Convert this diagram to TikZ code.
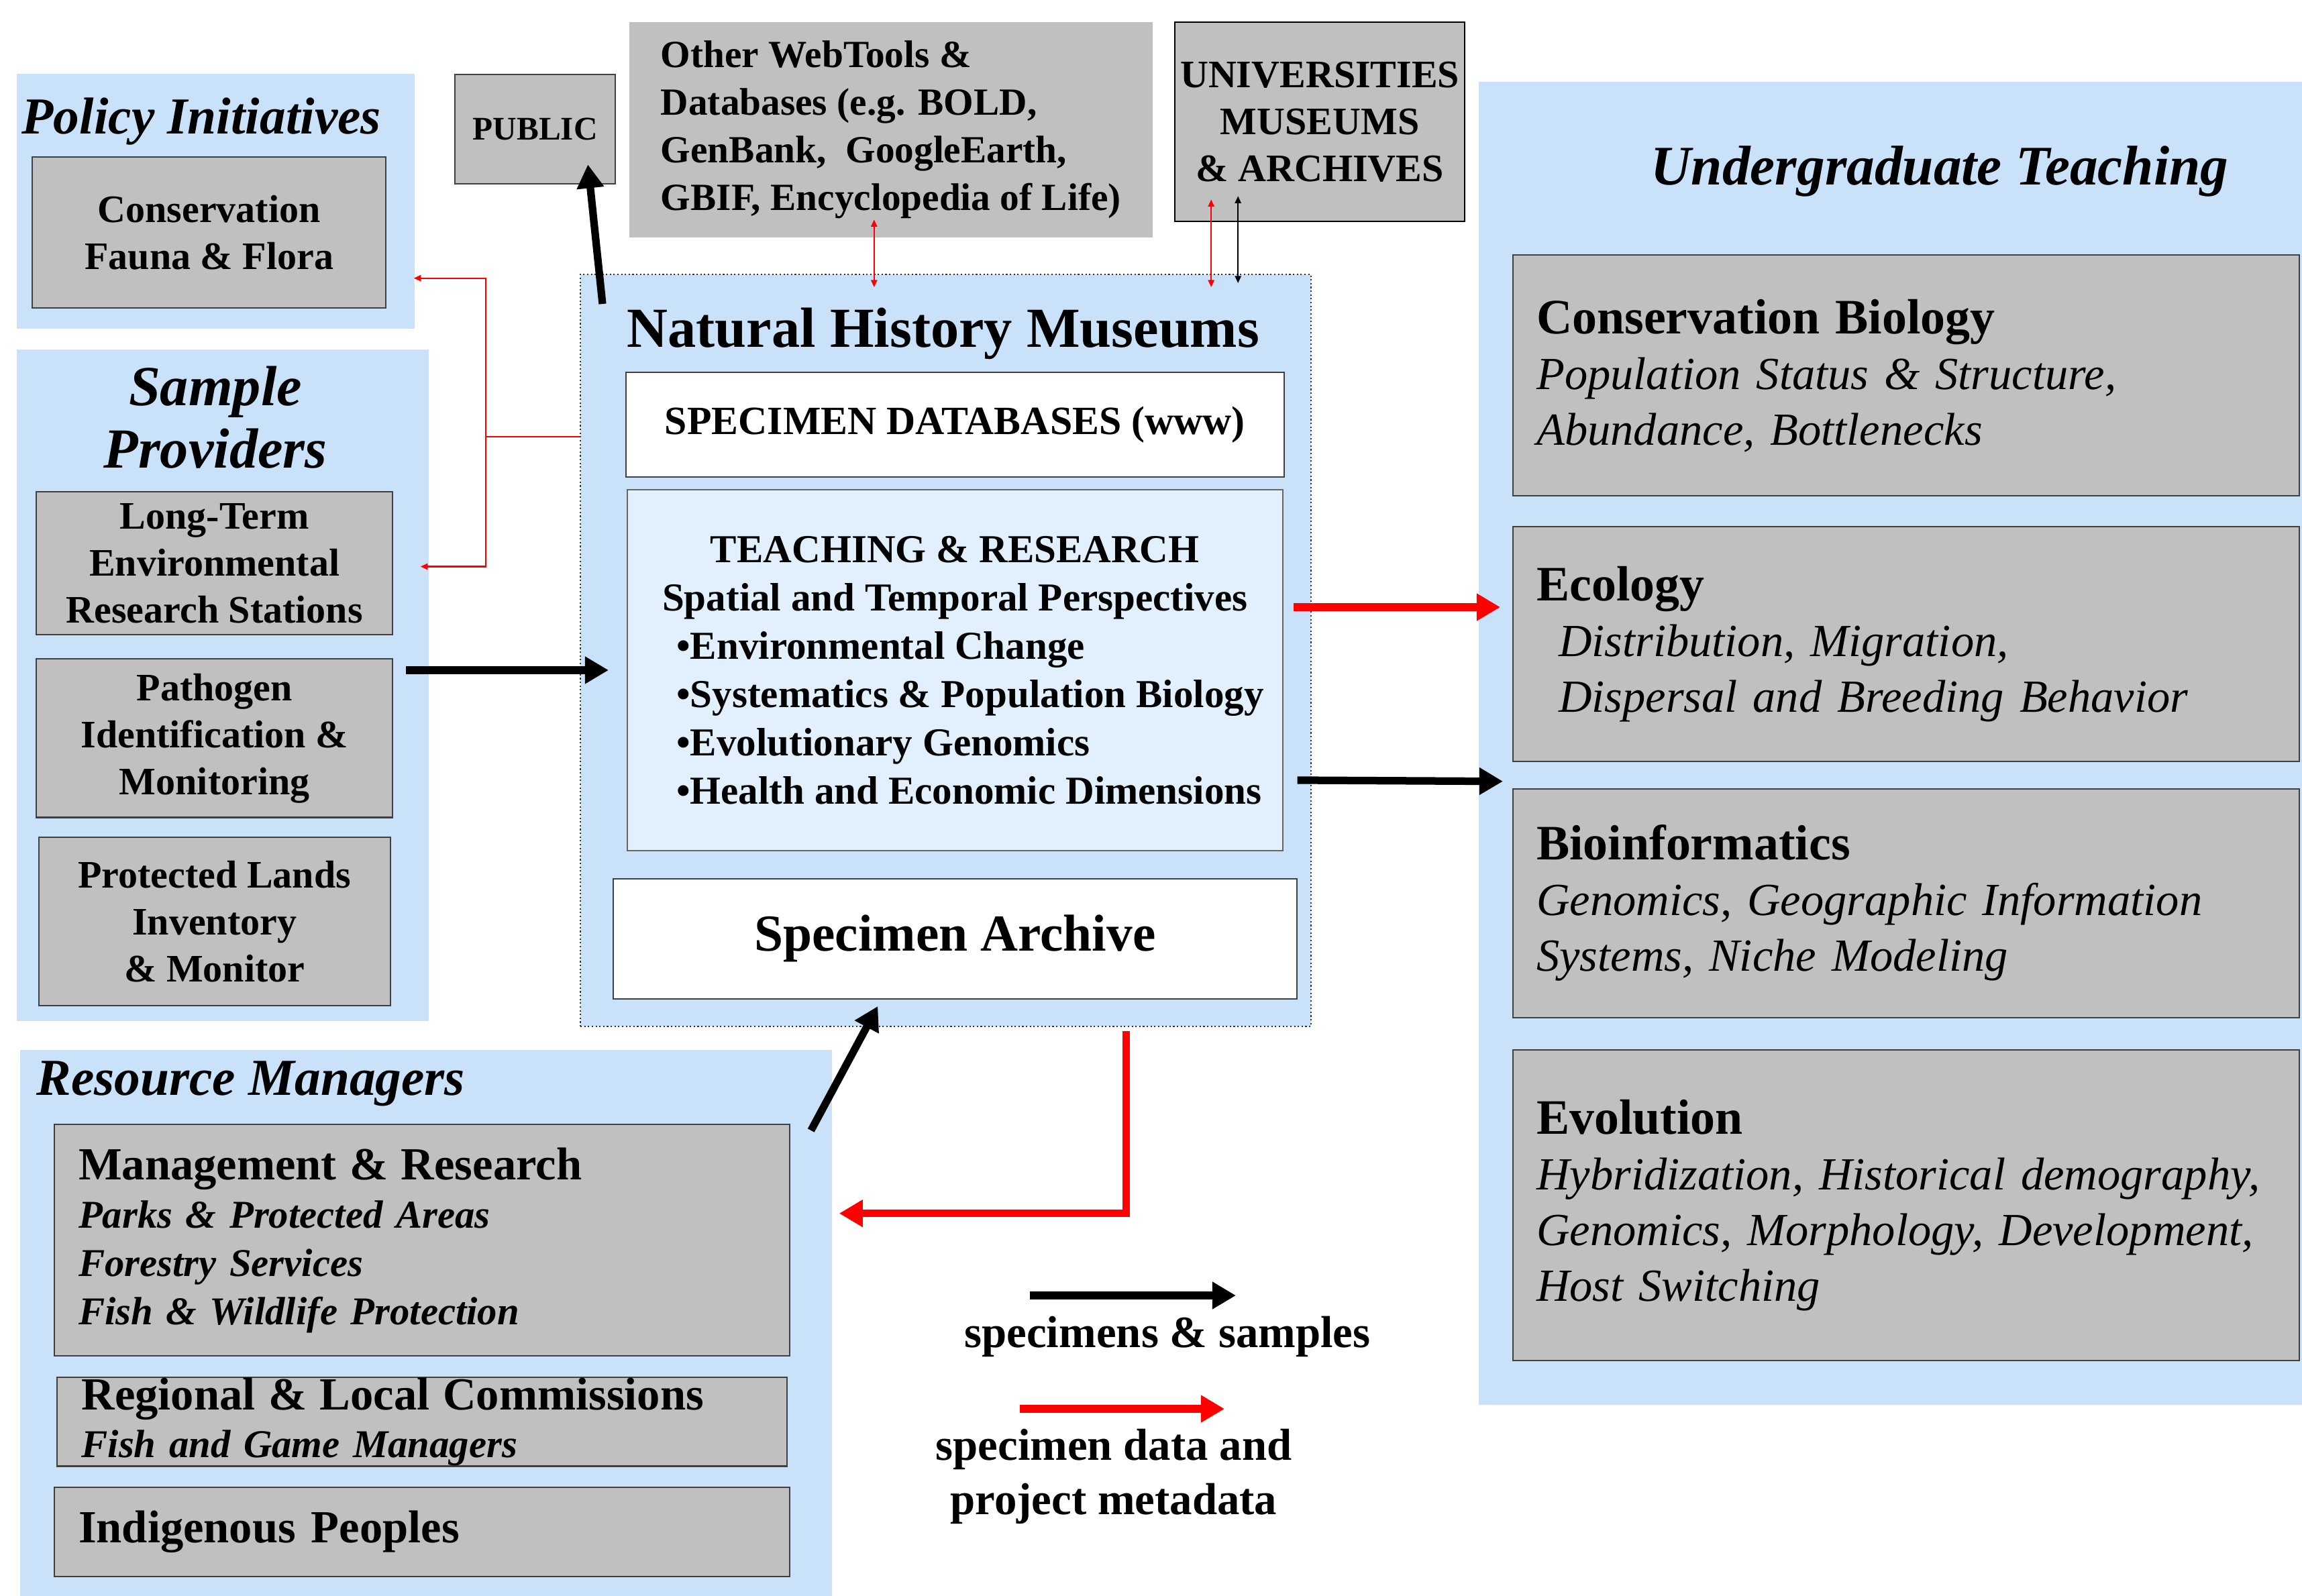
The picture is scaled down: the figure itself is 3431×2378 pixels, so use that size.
\documentclass[tikz,border=0pt]{standalone}
\usepackage{fontspec}
\setmainfont{Liberation Serif}
\usetikzlibrary{positioning,calc,arrows.meta}

\definecolor{panelblue}{RGB}{201,226,250}
\definecolor{teachblue}{RGB}{226,239,252}
\definecolor{boxgrey}{RGB}{192,192,192}

\tikzset{
  panel/.style={fill=panelblue, draw=none, inner sep=0pt, anchor=north west},
  greybox/.style={draw=black!75, fill=boxgrey, line width=0.6pt, inner sep=0pt},
  whitebox/.style={draw=black!75, fill=white, line width=0.6pt, inner sep=0pt},
  headtitle/.style={inner sep=0pt, font=\fontsize{22}{26}\selectfont\bfseries\itshape},
  sidetext/.style={align=center, font=\fontsize{16.5}{19.9}\selectfont\bfseries},
  righttext/.style={align=left, text width=11.01cm, font=\fontsize{19.5}{23.6}\selectfont\itshape},
  keytext/.style={inner sep=0pt, font=\fontsize{19}{23}\selectfont\bfseries},
  sampleflow/.style={line width=3.2pt, -{Triangle[length=10pt,width=11pt]}},
  dataflow/.style={sampleflow, red},
  thinred/.style={draw=red, line width=0.6pt},
  thinblack/.style={draw=black, line width=0.6pt},
  tinytips/.style={{Triangle[length=3pt,width=2.6pt]}-{Triangle[length=3pt,width=2.6pt]}},
  tinytip/.style={-{Triangle[length=3pt,width=2.6pt]}}
}

\newcommand{\headfont}{\fontsize{21}{23.6}\selectfont\bfseries\upshape}
\newcommand{\mgmtfont}{\fontsize{19.5}{20.5}\selectfont\bfseries\upshape}

\begin{document}
\begin{tikzpicture}[x=0.01cm, y=-0.01cm]
\useasboundingbox (0,0) rectangle (3431,2378);

% panels
\node[panel, minimum width=5.93cm, minimum height=3.80cm] (policy) at (24,109) {};
\node[panel, minimum width=6.14cm, minimum height=10.01cm] (sample) at (24,520) {};
\node[panel, minimum width=12.10cm, minimum height=8.14cm] (resource) at (29,1564) {};
\node[panel, minimum width=12.28cm, minimum height=19.71cm] (undergrad) at (2203,121) {};
\node[panel, draw=black!80, densely dotted, line width=0.6pt, minimum width=10.88cm, minimum height=11.20cm] (nhm) at (864,408) {};

% panel titles
\node[headtitle, anchor=base west] (policyhead) at (32,199) {Policy Initiatives};
\node[headtitle, align=center, font=\fontsize{24}{26.5}\selectfont\bfseries\itshape] (samplehead) at (321,622) {Sample\\Providers};
\node[headtitle, anchor=base west] (resourcehead) at (54,1632) {Resource Managers};
\node[headtitle, anchor=base west, font=\fontsize{23.7}{26}\selectfont\bfseries\itshape] (undergradhead) at (2460,275) {Undergraduate Teaching};
\node[inner sep=0pt, anchor=base west, font=\fontsize{24}{26}\selectfont\bfseries] (nhmhead) at (934,517) {Natural History Museums};

% left column
\node[greybox, sidetext, minimum width=5.27cm, minimum height=2.25cm, anchor=north west] (faunaflora) at (47,233) {Conservation\\Fauna \& Flora};
\node[greybox, sidetext, minimum width=5.31cm, minimum height=2.13cm, anchor=north west] (longterm) at (53,732) {Long-Term\\Environmental\\Research Stations};
\node[greybox, sidetext, minimum width=5.31cm, minimum height=2.36cm, below=0.34cm of longterm] (pathogen) {Pathogen\\Identification \&\\Monitoring};
\node[greybox, sidetext, minimum width=5.24cm, minimum height=2.51cm, below=0.27cm of pathogen] (protected) {Protected Lands\\Inventory\\\& Monitor};

% top row
\node[greybox, font=\fontsize{14}{17}\selectfont\bfseries, minimum width=2.39cm, minimum height=1.63cm, anchor=north west] (public) at (677,110) {PUBLIC};
\node[greybox, draw=none, align=left, font=\fontsize{16.3}{20.2}\selectfont\bfseries, minimum width=7.79cm, minimum height=3.21cm, anchor=north west] (webtools) at (937,32) {Other WebTools \&\\Databases (e.g. BOLD,\\GenBank, \ GoogleEarth,\\GBIF, Encyclopedia of Life)};
\node[greybox, draw=black, sidetext, minimum width=4.32cm, minimum height=2.97cm, anchor=north west] (univ) at (1750,32) {UNIVERSITIES\\MUSEUMS\\\& ARCHIVES};

% museum
\node[whitebox, font=\fontsize{17}{20}\selectfont\bfseries, minimum width=9.80cm, minimum height=1.56cm, anchor=north west] (specdb) at (932,554) {SPECIMEN DATABASES (www)};
\node[greybox, fill=teachblue, draw=black!60, align=center, font=\fontsize{16.8}{20.5}\selectfont\bfseries, minimum width=9.76cm, minimum height=5.37cm, below=0.17cm of specdb] (teach) {TEACHING \& RESEARCH\\Spatial and Temporal Perspectives\\\makebox[8.3cm][l]{•Environmental Change}\\\makebox[8.3cm][l]{•Systematics \& Population Biology}\\\makebox[8.3cm][l]{•Evolutionary Genomics}\\\makebox[8.3cm][l]{•Health and Economic Dimensions}};
\node[whitebox, font=\fontsize{22}{26}\selectfont\bfseries, minimum width=10.19cm, minimum height=1.79cm, below=0.40cm of teach] (archive) {Specimen Archive};

% resource managers
\node[greybox, align=left, text width=10.23cm, font=\fontsize{16.7}{20.5}\selectfont\bfseries\itshape, minimum width=10.95cm, minimum height=3.45cm, anchor=north west] (mgmt) at (80,1675) {{\mgmtfont Management \& Research}\\Parks \& Protected Areas\\Forestry Services\\Fish \& Wildlife Protection};
\node[greybox, align=left, text width=10.14cm, font=\fontsize{16.7}{20}\selectfont\bfseries\itshape, minimum width=10.88cm, minimum height=1.32cm, below=0.30cm of mgmt] (regional) {{\mgmtfont Regional \& Local Commissions}\\Fish and Game Managers};
\node[greybox, align=left, text width=10.23cm, font=\mgmtfont, minimum width=10.95cm, minimum height=1.33cm, below=0.29cm of regional] (indig) {Indigenous Peoples};

% undergraduate teaching
\node[greybox, righttext, minimum width=11.71cm, minimum height=3.59cm, anchor=north west] (consbio) at (2254,379) {{\headfont Conservation Biology}\\Population Status \& Structure,\\Abundance, Bottlenecks};
\node[greybox, righttext, minimum width=11.71cm, minimum height=3.49cm, below=0.44cm of consbio] (ecology) {{\headfont Ecology}\\\hspace*{0.33cm}Distribution, Migration,\\\hspace*{0.33cm}Dispersal and Breeding Behavior};
\node[greybox, righttext, minimum width=11.71cm, minimum height=3.41cm, below=0.39cm of ecology] (bioinf) {{\headfont Bioinformatics}\\Genomics, Geographic Information\\Systems, Niche Modeling};
\node[greybox, righttext, minimum width=11.72cm, minimum height=4.63cm, below=0.46cm of bioinf] (evol) {{\headfont Evolution}\\Hybridization, Historical demography,\\Genomics, Morphology, Development,\\Host Switching};

% specimens and samples
\draw[sampleflow] ($(nhm.north west)+(34,45)$) -- ($(public.south east)+(-42,-30)$);
\draw[sampleflow] ($(pathogen.east |- teach.west)+(19,0)$) -- ($(teach.west)+(-27,0)$);
\draw[sampleflow] ($(teach.east)+(21,164)$) -- ($(bioinf.north west)+(-14,-10)$);
\draw[sampleflow] ($(mgmt.north east)+(31,10)$) -- ($(archive.south)+(-115,10)$);

% specimen data
\draw[dataflow] ($(teach.east |- ecology.west)+(15,-55)$) -- ($(ecology.west)+(-18,-55)$);
\draw[dataflow] ($(nhm.south)+(269,6)$) |- ($(mgmt.east)+(73,-40)$);

% thin links
\coordinate (fork) at ($(nhm.north west)+(-140,243)$);
\draw[thinred] (fork) -- (fork -| nhm.west);
\draw[thinred, tinytip] (fork) |- ($(policy.south east)+(-2,-76)$);
\draw[thinred, tinytip] (fork) |- ($(sample.east)+(-13,-177)$);
\draw[thinred, tinytips] ($(webtools.south)+(-25,-28)$) -- ($(webtools.south |- nhm.north)+(-25,20)$);
\draw[thinred, tinytips] ($(univ.south)+(-162,-34)$) -- ($(univ.south |- nhm.north)+(-162,20)$);
\draw[thinblack, tinytips] ($(univ.south)+(-122,-39)$) -- ($(univ.south |- nhm.north)+(-122,14)$);

% key
\coordinate (keyA) at (1535,1931);
\coordinate (keyB) at (1842,1931);
\coordinate (keyC) at (1520,2100);
\coordinate (keyD) at (1825,2100);
\draw[sampleflow] (keyA) -- (keyB);
\draw[dataflow] (keyC) -- (keyD);
\node[keytext, anchor=base] (keysamples) at (1740,2008) {specimens \& samples};
\node[keytext, align=center] (keydata) at (1660,2201) {specimen data and\\project metadata};
\end{tikzpicture}
\end{document}
